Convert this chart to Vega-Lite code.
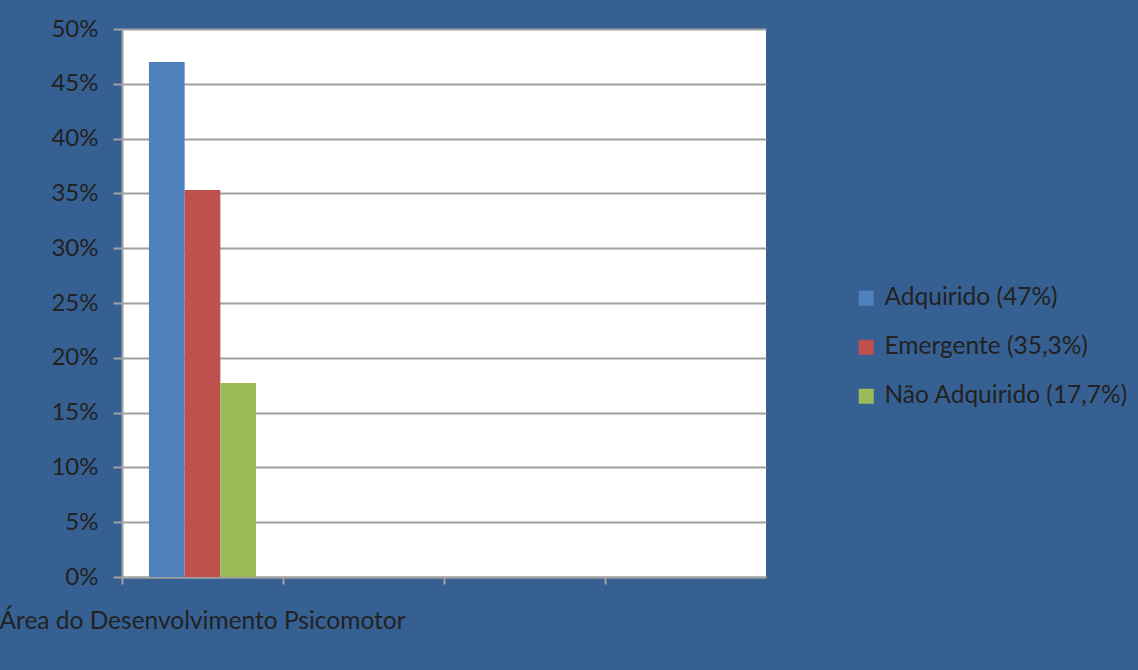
{
  "$schema": "https://vega.github.io/schema/vega-lite/v6.json",
  "width": 644,
  "height": 548,
  "autosize": {"type": "none"},
  "padding": {"left": 122, "top": 29, "right": 372, "bottom": 93},
  "background": "#366092",
  "config": {"view": {"fill": "white", "stroke": null}, "font": "Lato"},
  "data": {
    "values": [
      {"area": "Área do Desenvolvimento Psicomotor", "serie": "Adquirido (47%)", "valor": 0.47},
      {"area": "Área do Desenvolvimento Psicomotor", "serie": "Emergente (35,3%)", "valor": 0.353},
      {"area": "Área do Desenvolvimento Psicomotor", "serie": "Não Adquirido (17,7%)", "valor": 0.177}
    ]
  },
  "mark": {"type": "bar"},
  "encoding": {
    "x": {
      "field": "area",
      "type": "nominal",
      "scale": {"domain": ["Área do Desenvolvimento Psicomotor", " ", "  ", "   "], "paddingInner": 0, "paddingOuter": 0},
      "axis": {
        "title": null,
        "labelAngle": 0,
        "bandPosition": 0,
        "labelAlign": "center",
        "tickSize": 7,
        "tickColor": "#a0a0a0",
        "tickWidth": 2,
        "domainColor": "#a0a0a0",
        "domainWidth": 2,
        "labelPadding": 25,
        "labelFontSize": 24.5,
        "labelColor": "#222222",
        "labelLimit": 1000,
        "grid": false
      }
    },
    "xOffset": {
      "field": "serie",
      "type": "nominal",
      "scale": {"domain": ["Adquirido (47%)", "Emergente (35,3%)", "Não Adquirido (17,7%)"], "paddingInner": 0, "paddingOuter": 0.755}
    },
    "y": {
      "field": "valor",
      "type": "quantitative",
      "scale": {"domain": [0, 0.5], "nice": false},
      "axis": {
        "title": null,
        "format": ".0%",
        "values": [0, 0.05, 0.1, 0.15, 0.2, 0.25, 0.3, 0.35, 0.4, 0.45, 0.5],
        "gridColor": "#a0a0a0",
        "gridWidth": 2,
        "tickColor": "#a0a0a0",
        "tickWidth": 2,
        "tickSize": 9,
        "domainColor": "#a0a0a0",
        "domainWidth": 2,
        "labelPadding": 15,
        "labelFontSize": 24,
        "labelColor": "#222222"
      }
    },
    "color": {
      "field": "serie",
      "type": "nominal",
      "scale": {"domain": ["Adquirido (47%)", "Emergente (35,3%)", "Não Adquirido (17,7%)"], "range": ["#4F81BD", "#C0504D", "#9BBB59"]},
      "legend": {
        "title": null,
        "orient": "none",
        "legendX": 732,
        "legendY": 257,
        "symbolType": "square",
        "symbolSize": 225,
        "symbolStrokeWidth": 0,
        "labelFontSize": 24.5,
        "labelColor": "#222222",
        "labelOffset": 6,
        "rowPadding": 24,
        "labelLimit": 1000
      }
    }
  }
}
